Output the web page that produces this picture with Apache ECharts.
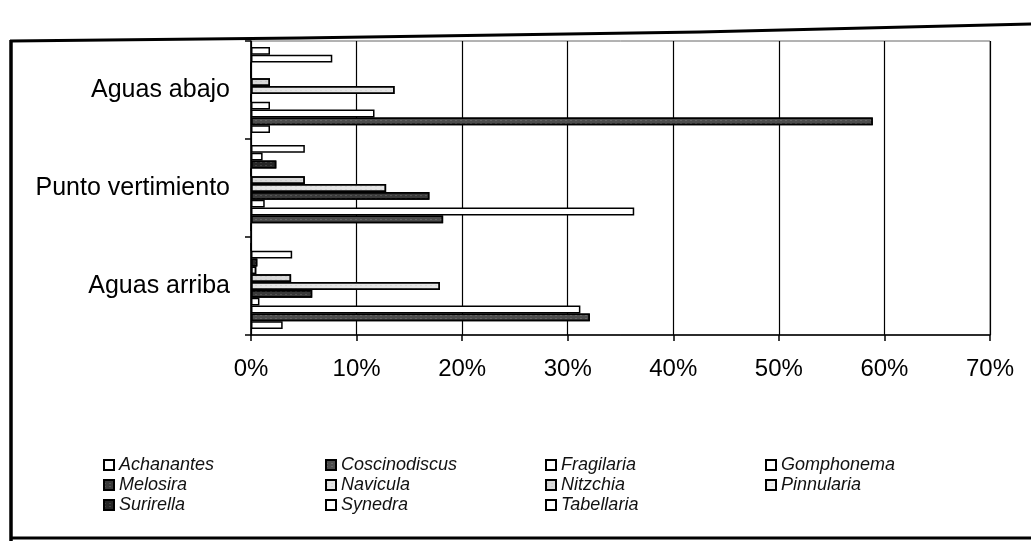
<!DOCTYPE html>
<html>
<head>
<meta charset="utf-8">
<script src="https://cdn.jsdelivr.net/npm/echarts@6/dist/echarts.min.js"></script>
<style>
  html, body { margin: 0; padding: 0; background: #fff; }
  #chart { width: 1031px; height: 541px; }
</style>
</head>
<body>
<div id="chart"></div>
<script>
// Sampling sites (bottom to top on the axis)
const sites = ['Aguas arriba', 'Punto vertimiento', 'Aguas abajo'];

// Tick labels for the percentage axis
const percentTicks = ['0%', '10%', '20%', '30%', '40%', '50%', '60%', '70%'];

// Relative abundance (%) of each genus at each site, in the order of `sites`
const achanantes    = [3.0, 0, 1.8];
const coscinodiscus = [32.1, 18.2, 58.9];
const fragilaria    = [31.2, 36.3, 11.7];
const gomphonema    = [0.8, 1.3, 1.8];
const melosira      = [5.8, 16.9, 0];
const navicula      = [17.9, 12.8, 13.6];
const nitzchia      = [3.8, 5.1, 1.8];
const pinnularia    = [0.5, 0, 0];
const surirella     = [0.6, 2.4, 0];
const synedra       = [3.9, 1.1, 7.7];
const tabellaria    = [0, 5.1, 1.8];

const genera = [
  ['Achanantes', achanantes],
  ['Coscinodiscus', coscinodiscus],
  ['Fragilaria', fragilaria],
  ['Gomphonema', gomphonema],
  ['Melosira', melosira],
  ['Navicula', navicula],
  ['Nitzchia', nitzchia],
  ['Pinnularia', pinnularia],
  ['Surirella', surirella],
  ['Synedra', synedra],
  ['Tabellaria', tabellaria]
];

// Monochrome fills; speckled ones get a dotted decal
const speckLight = { symbol: 'rect', symbolSize: 0.5, color: 'rgba(255,255,255,0.55)', dashArrayX: [2, 3], dashArrayY: [1, 2], rotation: 0 };
const speckDark = { symbol: 'rect', symbolSize: 0.5, color: 'rgba(0,0,0,0.25)', dashArrayX: [2, 3], dashArrayY: [1, 2], rotation: 0 };
const fillStyle = {
  Achanantes:    { color: '#ffffff' },
  Coscinodiscus: { color: '#4d4d4d', decal: speckLight },
  Fragilaria:    { color: '#ffffff' },
  Gomphonema:    { color: '#ffffff' },
  Melosira:      { color: '#3a3a3a', decal: speckLight },
  Navicula:      { color: '#e4e4e4', decal: speckDark },
  Nitzchia:      { color: '#d8d8d8', decal: speckDark },
  Pinnularia:    { color: '#eeeeee', decal: speckDark },
  Surirella:     { color: '#262626', decal: speckLight },
  Synedra:       { color: '#ffffff' },
  Tabellaria:    { color: '#ffffff' }
};

// Horizontal bars stack their series top-down inside a band, so the list is
// reversed to put Achanantes at the bottom of each site's group.
const series = genera.slice().reverse().map(([name, values]) => ({
  name: name,
  type: 'bar',
  data: values,
  barGap: '0%',
  barCategoryGap: '12%',
  itemStyle: Object.assign({ borderColor: '#000', borderWidth: 1.5 }, fillStyle[name]),
  emphasis: { disabled: true }
}));

const legendFont = { fontFamily: 'Liberation Sans', fontStyle: 'italic', fontSize: 18, color: '#111', lineHeight: 20 };
const legendColumns = [
  { left: 103, names: ['Achanantes', 'Melosira', 'Surirella'] },
  { left: 325, names: ['Coscinodiscus', 'Navicula', 'Synedra'] },
  { left: 545, names: ['Fragilaria', 'Nitzchia', 'Tabellaria'] },
  { left: 765, names: ['Gomphonema', 'Pinnularia'] }
];

const chart = echarts.init(document.getElementById('chart'), null, { renderer: 'canvas' });
chart.setOption({
  animation: false,
  backgroundColor: '#ffffff',
  textStyle: { fontFamily: 'Liberation Sans' },
  grid: {
    left: 251, right: 41, top: 41, bottom: 206,
    show: true, borderColor: '#666', borderWidth: 1, backgroundColor: 'transparent'
  },
  xAxis: {
    type: 'value',
    min: 0, max: 70, interval: 10,
    axisLine: { show: true, lineStyle: { color: '#000', width: 1.5 } },
    axisTick: { show: true, length: 6, lineStyle: { color: '#000', width: 1.5 } },
    splitLine: { show: true, lineStyle: { color: '#000', width: 1.2 } },
    axisLabel: {
      margin: 22,
      fontSize: 24,
      color: '#000',
      formatter: (v) => percentTicks[Math.round(v / 10)]
    }
  },
  yAxis: {
    type: 'category',
    data: sites,
    axisLine: { show: true, lineStyle: { color: '#000', width: 1.5 } },
    axisTick: { show: true, length: 6, lineStyle: { color: '#000', width: 1.5 } },
    axisLabel: { margin: 21, fontSize: 25, color: '#000' }
  },
  legend: legendColumns.map(col => ({
    data: col.names.map(n => ({ name: n, icon: 'rect' })),
    orient: 'vertical',
    left: col.left,
    top: 455,
    itemWidth: 10,
    itemHeight: 10,
    itemGap: 0,
    selectedMode: false,
    textStyle: legendFont,
    padding: 0
  })),
  series: series,
  graphic: [
    // outer frame strokes
    { type: 'polyline', shape: { points: [[10, 41], [300, 38], [700, 32], [1031, 24]] }, style: { stroke: '#000', lineWidth: 3, fill: null } },
    { type: 'line', shape: { x1: 11, y1: 40, x2: 11, y2: 541 }, style: { stroke: '#000', lineWidth: 3.5 } },
    { type: 'line', shape: { x1: 10, y1: 538, x2: 1031, y2: 538 }, style: { stroke: '#000', lineWidth: 3 } }
  ]
});
</script>
</body>
</html>
